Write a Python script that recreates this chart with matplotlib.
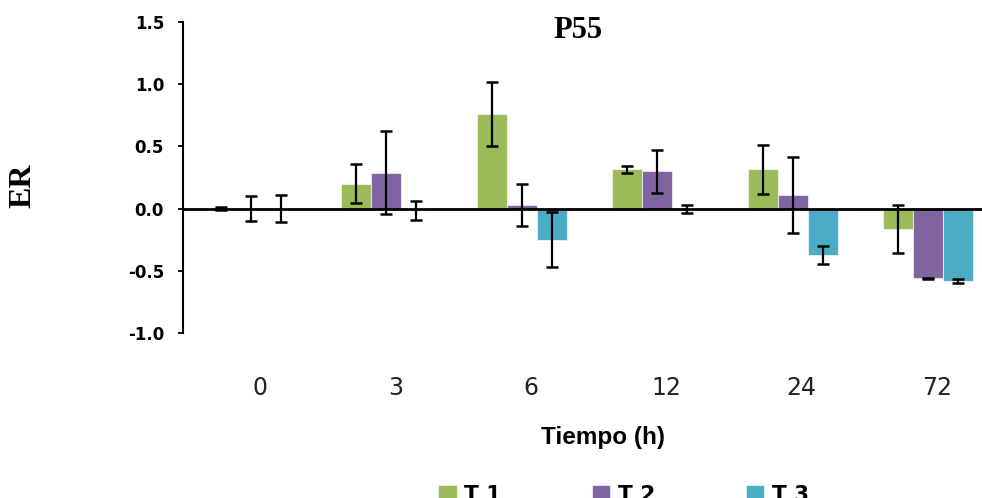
import matplotlib
matplotlib.use("Agg")
import matplotlib.pyplot as plt
import matplotlib.transforms as mtransforms
import numpy as np

# Sampling times (h) and relative expression per treatment
tiempos = ["0", "3", "6", "12", "24", "72"]
t1 = [0.00, 0.20, 0.76, 0.315, 0.315, -0.165]
t1_err = [0.01, 0.155, 0.26, 0.025, 0.195, 0.19]
t2 = [0.00, 0.29, 0.03, 0.30, 0.107, -0.56]
t2_err = [0.10, 0.335, 0.17, 0.175, 0.305, 0.005]
t3 = [0.00, -0.015, -0.25, -0.005, -0.37, -0.58]
t3_err = [0.11, 0.077, 0.22, 0.03, 0.073, 0.016]
series_names = ["T 1", "T 2", "T 3"]
colors = ["#9BBB59", "#8064A2", "#4BACC6"]
yticks = [-1.0, -0.5, 0.0, 0.5, 1.0, 1.5]

W, H = 982, 498
fig = plt.figure(figsize=(W / 100, H / 100), dpi=100)
ax = fig.add_axes([183 / W, 1 - 333 / H, 813 / W, 311 / H])

x = np.arange(len(tiempos))
bw = 0.2215
offsets = [-bw, 0.0, bw]
for vals, errs, off, col, name in zip([t1, t2, t3], [t1_err, t2_err, t3_err],
                                      offsets, colors, series_names):
    ax.bar(x + off, vals, width=bw, color=col, edgecolor=(1, 1, 1, 0.6),
           linewidth=0.8, label=name, zorder=2)
    ax.errorbar(x + off, vals, yerr=errs, fmt="none", ecolor="black",
                elinewidth=1.6, capsize=4.3, capthick=1.8, zorder=4)

ax.axhline(0, color="black", lw=2.0, zorder=3)

ax.set_xlim(-0.5, 5.5)
ax.set_ylim(-1.0, 1.5)
ax.set_yticks(yticks)
ax.set_yticklabels([f"{v:.1f}" for v in yticks], fontfamily="DejaVu Sans",
                   fontweight="bold", fontsize=12)
ax.tick_params(axis="y", direction="out", length=3.6, width=1.3, pad=10)

ax.set_xticks(x)
ax.set_xticklabels(tiempos, fontfamily="DejaVu Sans", fontsize=17,
                   color="#222222")
ax.tick_params(axis="x", length=0, pad=31)
shift = mtransforms.ScaledTranslation(9 / 100, 0, fig.dpi_scale_trans)
for lbl in ax.get_xticklabels():
    lbl.set_transform(lbl.get_transform() + shift)

for side in ["top", "right", "bottom"]:
    ax.spines[side].set_visible(False)
ax.spines["left"].set_linewidth(1.5)

ax.set_xlabel("Tiempo (h)", fontfamily="Liberation Sans", fontweight="bold",
              fontsize=17.5)
ax.xaxis.set_label_coords((603 - 183) / 813, (333 - 426) / 311)

fig.text(23 / W, 1 - 186 / H, "ER", rotation=90, ha="center", va="center",
         fontfamily="Liberation Serif", fontweight="bold", fontsize=23)
fig.text(578 / W, 1 - 31 / H, "P55", ha="center", va="center",
         fontfamily="Liberation Serif", fontweight="bold", fontsize=22)

fig.legend(loc="upper left", bbox_to_anchor=(438 / W, 1 - 485 / H),
           ncol=3, frameon=False, borderpad=0, borderaxespad=0,
           handlelength=0.86, handleheight=0.86, handletextpad=0.36,
           columnspacing=4.2,
           prop={"family": "DejaVu Sans", "weight": "bold", "size": 15.5})

fig.savefig("out.png", dpi=100)
